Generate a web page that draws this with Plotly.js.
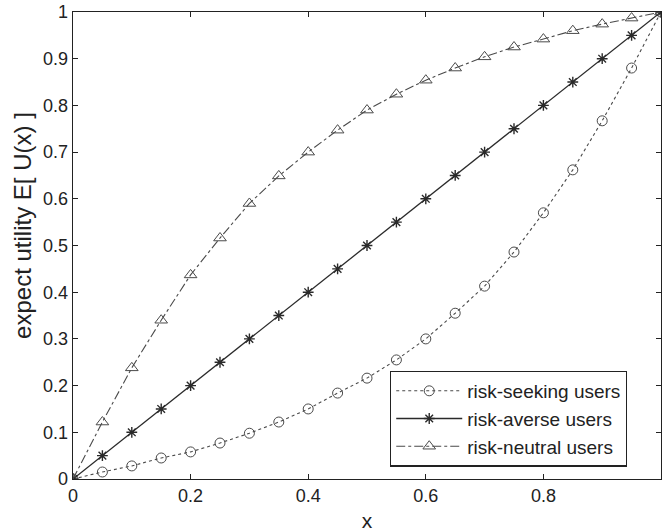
<!DOCTYPE html>
<html>
<head>
<meta charset="utf-8">
<script src="https://cdn.plot.ly/plotly-3.0.1.min.js"></script>
<style>html,body{margin:0;padding:0;background:#fff;}#chart{width:662px;height:532px;}</style>
</head>
<body>
<div id="chart"></div>
<script>
var xValues = [0, 0.05, 0.1, 0.15, 0.2, 0.25, 0.3, 0.35, 0.4, 0.45, 0.5, 0.55, 0.6, 0.65, 0.7, 0.75, 0.8, 0.85, 0.9, 0.95, 1];
var riskSeeking = [0, 0.015, 0.028, 0.045, 0.058, 0.077, 0.098, 0.122, 0.15, 0.184, 0.216, 0.255, 0.30, 0.355, 0.413, 0.486, 0.57, 0.662, 0.767, 0.88, 1];
var riskAverse = [0, 0.05, 0.1, 0.15, 0.2, 0.25, 0.3, 0.35, 0.4, 0.45, 0.5, 0.55, 0.6, 0.65, 0.7, 0.75, 0.8, 0.85, 0.9, 0.95, 1];
var riskNeutral = [0, 0.122, 0.238, 0.34, 0.437, 0.516, 0.59, 0.649, 0.70, 0.747, 0.79, 0.824, 0.854, 0.88, 0.904, 0.925, 0.942, 0.96, 0.974, 0.987, 1];
var seriesNames = ["risk-seeking users", "risk-averse users", "risk-neutral users"];
var xTicks = [0, 0.2, 0.4, 0.6, 0.8, 1];
var xTickLabels = ["0", "0.2", "0.4", "0.6", "0.8", "1"];
var yTicks = [0, 0.1, 0.2, 0.3, 0.4, 0.5, 0.6, 0.7, 0.8, 0.9, 1];
var yTickLabels = ["0", "0.1", "0.2", "0.3", "0.4", "0.5", "0.6", "0.7", "0.8", "0.9", "1"];
var xTitle = "x";
var yTitle = "expect utility E[ U(x) ]";

var fam = "Liberation Sans, Arial, sans-serif";
var ink = "#2a2a2a";
var gray = "#4a4a4a";
var traces = [
  {x: xValues, y: riskSeeking, name: seriesNames[0], mode: "lines+markers",
   line: {color: gray, width: 1.1, dash: "dot"},
   marker: {symbol: "circle-open", size: 10, color: gray, line: {width: 1, color: gray}}},
  {x: xValues, y: riskAverse, name: seriesNames[1], mode: "lines+markers",
   line: {color: ink, width: 1.3, dash: "solid"},
   marker: {symbol: "asterisk-open", size: 9, color: ink, line: {width: 1.4, color: ink}}},
  {x: xValues, y: riskNeutral, name: seriesNames[2], mode: "lines+markers",
   line: {color: gray, width: 1.1, dash: "dashdot"},
   marker: {symbol: "triangle-up-open", size: 11, color: gray, line: {width: 1, color: gray}}}
];

var axisCommon = {
  showline: true, linecolor: "#222", linewidth: 1.3, mirror: "ticks",
  ticks: "inside", ticklen: 5, tickcolor: "#222", showgrid: false, zeroline: false,
  tickfont: {family: fam, size: 18, color: "#222"}
};

var layout = {
  width: 662, height: 532,
  margin: {l: 73, r: 1, t: 12, b: 53},
  paper_bgcolor: "#fff", plot_bgcolor: "#fff",
  showlegend: true,
  legend: {x: 0.539, y: 0.232, xanchor: "left", yanchor: "top",
    bgcolor: "#fff", bordercolor: "#222", borderwidth: 1.3,
    font: {family: fam, size: 19, color: "#222"},
    itemwidth: 66, tracegroupgap: 0},
  xaxis: Object.assign({}, axisCommon, {range: [0, 1], tickvals: xTicks, ticktext: xTickLabels,
    title: {text: xTitle, standoff: 10, font: {family: fam, size: 21, color: "#222"}}}),
  yaxis: Object.assign({}, axisCommon, {range: [0, 1], tickvals: yTicks, ticktext: yTickLabels}),
  annotations: [{text: yTitle, xref: "paper", yref: "paper", x: -0.085, y: 0.542,
    xanchor: "center", yanchor: "middle", textangle: -90, showarrow: false,
    font: {family: fam, size: 24, color: "#222"}}]
};

Plotly.newPlot("chart", traces, layout, {displayModeBar: false, staticPlot: true});
</script>
</body>
</html>
